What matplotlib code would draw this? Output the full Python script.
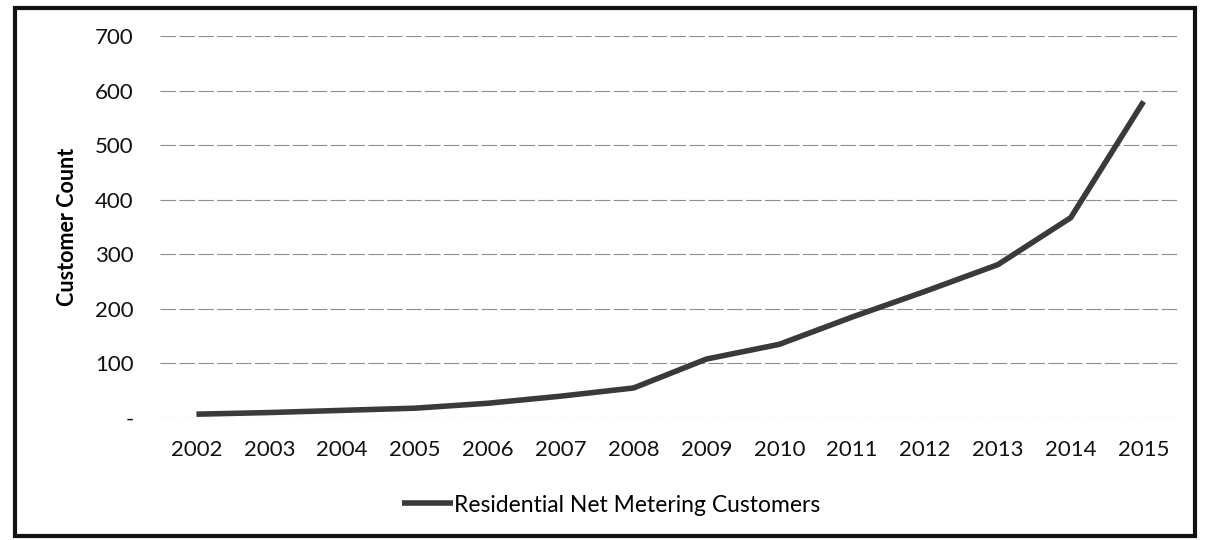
import matplotlib
matplotlib.use("Agg")
import matplotlib.pyplot as plt
from matplotlib.patches import Rectangle

years = ["2002", "2003", "2004", "2005", "2006", "2007", "2008",
         "2009", "2010", "2011", "2012", "2013", "2014", "2015"]
customers = [7, 10, 14, 18, 27, 40, 55, 108, 135, 185, 232, 281, 367, 580]
y_ticks = [0, 100, 200, 300, 400, 500, 600, 700]
y_tick_labels = ["-", "100", "200", "300", "400", "500", "600", "700"]
series_name = "Residential Net Metering Customers"

plt.rcParams['font.family'] = ['Lato', 'DejaVu Sans']

fig = plt.figure(figsize=(12.05, 5.40), dpi=100)
ax = fig.add_axes([160/1205, 1 - 418/540, 1020/1205, (418-36)/540])

x = list(range(len(years)))
ax.plot(x, customers, color="#3a3a3a", lw=4, solid_capstyle="butt",
        label=series_name, zorder=3)

ax.set_xlim(-0.5, len(years) - 0.5)
ax.set_ylim(0, 700)
ax.set_yticks(y_ticks)
ax.set_yticklabels(y_tick_labels)
ax.set_xticks(x)
ax.set_xticklabels(years)
ax.tick_params(axis="both", length=0, labelsize=16, colors="#111111")
ax.tick_params(axis="y", pad=19)
ax.tick_params(axis="x", pad=16)
ax.grid(axis="y", color="#8f8f8f", lw=0.8, linestyle=(0, (14, 3)))
ax.set_axisbelow(True)
for s in ax.spines.values():
    s.set_visible(False)

ax.set_ylabel("Customer Count", fontsize=15.5, fontweight="bold", labelpad=12)

leg = fig.legend(loc="center", bbox_to_anchor=(611/1205, 1 - 505/540), frameon=False,
                 fontsize=16.5, handlelength=2.2, handletextpad=0.05)

fig.patches.append(Rectangle((15/1205, 4/540), 1180/1205, 528/540,
                             transform=fig.transFigure, fill=False,
                             edgecolor="#111111", lw=3))

fig.savefig("out.png", dpi=100)
